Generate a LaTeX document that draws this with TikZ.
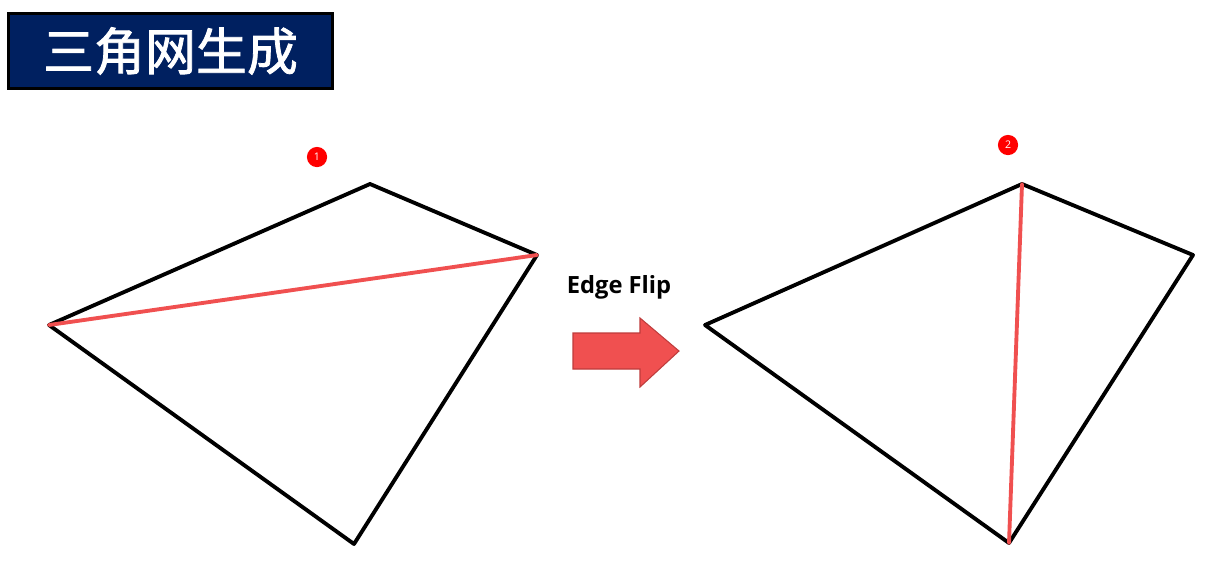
\documentclass[tikz,border=0pt]{standalone}
\usepackage{fontspec}
\newfontfamily\cjk{Noto Sans CJK SC}[AutoFakeBold=1.5]
\newfontfamily\lbl{Open Sans}
\usetikzlibrary{calc,positioning}
\definecolor{navy}{RGB}{0,32,96}
\definecolor{flipred}{RGB}{240,80,80}
\definecolor{arrowline}{RGB}{190,60,60}

\begin{document}
\begin{tikzpicture}[x=0.02cm,y=-0.02cm,
  edge/.style={line width=2.2pt,line join=round,line cap=round},
  flip/.style={line width=2.2pt,color=flipred,line cap=round},
  num/.style={circle,fill=red,text=white,inner sep=0pt,minimum size=11.5pt,font=\lbl\fontsize{6}{6}\selectfont},
  title/.style={draw=black,line width=1.6pt,fill=navy,text=white,minimum width=184pt,minimum height=43pt,inner sep=0pt,font=\cjk\bfseries\fontsize{29}{31}\selectfont}]
\useasboundingbox (0,0) rectangle (1209,569);

\node [title] (title) at (170.5,51) {三角网生成};

% before the flip
\foreach \i / \x / \y in {1/49/325,2/370/184,3/537/255,4/354/544}
  \coordinate (l\i) at (\x,\y);
\draw [edge] (l1) -- (l2) -- (l3) -- (l4) -- cycle;
\draw [flip] (l1) -- (l3);
\node [num] (n1) at (317,157) {1};

% after the flip
\foreach \i / \x / \y in {1/705/325,2/1022/184,3/1193/255,4/1009/543}
  \coordinate (r\i) at (\x,\y);
\draw [edge] (r1) -- (r2) -- (r3) -- (r4) -- cycle;
\draw [flip] (r2) -- (r4);
\node [num] (n2) at (1008,145) {2};

% arrow
\node [font=\lbl\bfseries\fontsize{13.5}{15}\selectfont] (flipname) at (619,287) {Edge Flip};
\draw [fill=flipred,draw=arrowline,line width=0.6pt]
  (573,333) -- (640,333) -- (640,318) -- (679,351) -- (640,387) -- (640,369) -- (573,369) -- cycle;

\end{tikzpicture}
\end{document}
